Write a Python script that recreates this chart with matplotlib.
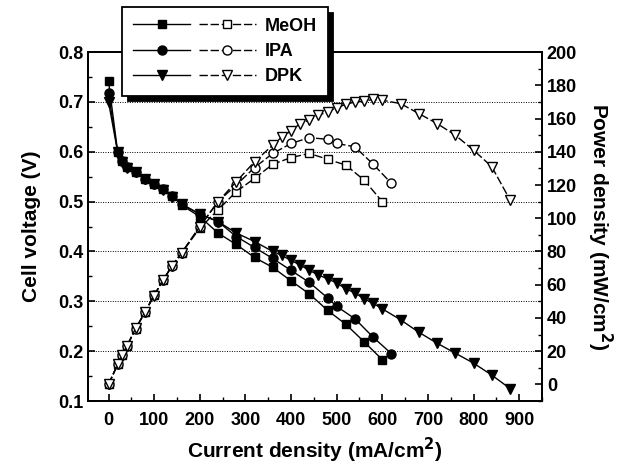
import numpy as np
import matplotlib
matplotlib.use("Agg")
import matplotlib.pyplot as plt
from matplotlib.legend_handler import HandlerTuple
from matplotlib.ticker import MultipleLocator

plt.rcParams.update({
    'font.family': ['Liberation Sans', 'DejaVu Sans'],
    'font.weight': 'bold',
    'axes.labelweight': 'bold',
    'axes.linewidth': 1.3,
    'xtick.direction': 'in',
    'ytick.direction': 'in',
})

# current density (mA/cm2)
i_meoh = [0, 20, 30, 40, 60, 80, 100, 120, 140, 160, 200, 240, 280, 320, 360,
          400, 440, 480, 520, 560, 600]
i_ipa = [0, 20, 30, 40, 60, 80, 100, 120, 140, 160, 200, 240, 280, 320, 360,
         400, 440, 480, 500, 540, 580, 620]
i_dpk = [0, 20, 30, 40, 60, 80, 100, 120, 140, 160, 200, 240, 280, 320, 360,
         380, 400, 420, 440, 460, 480, 500, 520, 540, 560, 580, 600, 640, 680,
         720, 760, 800, 840, 880]

# cell voltage (V)
v_meoh = [0.742, 0.600, 0.582, 0.570, 0.560, 0.545, 0.536, 0.526, 0.512, 0.493,
          0.470, 0.437, 0.414, 0.388, 0.368, 0.341, 0.315, 0.282, 0.254, 0.219,
          0.183]
v_ipa = [0.717, 0.600, 0.582, 0.570, 0.560, 0.545, 0.536, 0.525, 0.511, 0.495,
         0.475, 0.460, 0.430, 0.408, 0.386, 0.362, 0.338, 0.307, 0.290, 0.265,
         0.228, 0.195]
v_dpk = [0.700, 0.600, 0.580, 0.568, 0.560, 0.545, 0.535, 0.524, 0.510, 0.495,
         0.475, 0.460, 0.437, 0.420, 0.400, 0.392, 0.382, 0.373, 0.362, 0.353,
         0.345, 0.337, 0.325, 0.317, 0.305, 0.296, 0.285, 0.263, 0.238, 0.216,
         0.196, 0.176, 0.152, 0.125]

# power density (mW/cm2)
p_meoh = [0, 12, 17.5, 23, 33.6, 43.6, 53.6, 63, 71.7, 79, 94, 105, 116, 124,
          132.5, 136.5, 139, 135.5, 132, 123, 110]
p_ipa = [0, 12, 17.5, 23, 33.6, 43.6, 53.6, 63, 71.5, 79, 95, 110, 120, 130.5,
         139, 145, 148.5, 147.5, 145, 143, 132.5, 121]
p_dpk = [0, 12, 17.4, 23, 34, 43.5, 53.5, 63, 71.5, 79, 95, 110, 122, 134, 144,
         149, 152.5, 157, 159, 162, 164, 166.5, 168.5, 170, 170.5, 171.5, 171,
         169, 163, 157, 150, 141, 131, 111]

labels = ['MeOH', 'IPA', 'DPK']
markers = ['s', 'o', 'v']
msizes = [6, 6.5, 7.5]

fig = plt.figure(figsize=(6.27, 4.65), dpi=100)
ax = fig.add_axes([0.1403, 0.1376, 0.7241, 0.7504])
ax2 = ax.twinx()

currents = [i_meoh, i_ipa, i_dpk]
volts = [v_meoh, v_ipa, v_dpk]
powers = [p_meoh, p_ipa, p_dpk]

handles = []
for k in range(3):
    h1, = ax.plot(currents[k], volts[k], '-', marker=markers[k], color='black',
                  mfc='black', ms=msizes[k], lw=1.0, zorder=3)
    h2, = ax2.plot(currents[k], powers[k], marker=markers[k], color='black',
                   mfc='white', ms=msizes[k], lw=1.0, ls=(0, (6, 2)),
                   mew=1.0, zorder=3)
    handles.append((h1, h2))

ax.set_xlim(-45, 950)
ax.set_ylim(0.1, 0.8)
ax2.set_ylim(-10, 200)

ax.xaxis.set_major_locator(MultipleLocator(100))
ax.xaxis.set_minor_locator(MultipleLocator(50))
ax.yaxis.set_major_locator(MultipleLocator(0.1))
ax.yaxis.set_minor_locator(MultipleLocator(0.05))
ax2.yaxis.set_major_locator(MultipleLocator(20))
ax2.yaxis.set_minor_locator(MultipleLocator(10))
ax.set_xticks(np.arange(0, 901, 100))
ax2.set_yticks(np.arange(0, 201, 20))

for a in (ax, ax2):
    a.tick_params(which='major', length=5, width=1.2, labelsize=13)
    a.tick_params(which='minor', length=3, width=1.0)
ax.tick_params(axis='x', pad=8)

ax.yaxis.grid(True, which='major', linestyle=(0, (1, 1.5)), color='black',
              linewidth=0.7)
ax.set_axisbelow(True)

ax.set_xlabel('Current density (mA/cm$^\\mathbf{2}$)', fontsize=15, labelpad=5)
ax.set_ylabel('Cell voltage (V)', fontsize=15, labelpad=12)
ax2.set_ylabel('Power density (mW/cm$^\\mathbf{2}$)', fontsize=15,
               rotation=270, labelpad=27)

leg = ax2.legend(handles, labels,
                 handler_map={tuple: HandlerTuple(ndivide=None, pad=0.5)},
                 loc='upper left', bbox_to_anchor=(0.195, 0.985),
                 bbox_transform=fig.transFigure, handlelength=6.8,
                 fontsize=13, frameon=True, fancybox=False,
                 shadow={'ox': 4, 'oy': -4, 'color': 'black', 'alpha': 1},
                 edgecolor='black', framealpha=1, borderpad=0.6,
                 labelspacing=0.45, handletextpad=0.5, borderaxespad=0)
leg.get_frame().set_linewidth(1.3)
leg.set_zorder(10)

fig.savefig('out.png', dpi=100)
